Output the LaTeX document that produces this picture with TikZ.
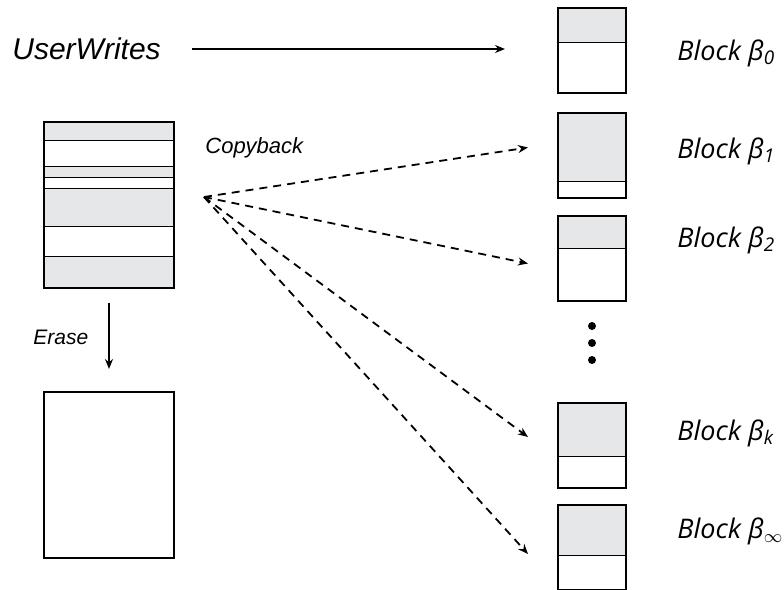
\documentclass[tikz,border=0pt]{standalone}
\usepackage{fontspec}
\setmainfont{Liberation Sans}
\newfontfamily\blkfont{Open Sans}
\usetikzlibrary{arrows.meta, positioning, calc}
\definecolor{blkgray}{RGB}{230,231,232}

\begin{document}
\begin{tikzpicture}[x=0.5pt, y=-0.5pt, >={Stealth[length=5pt,width=4pt]},
  blockbox/.style={draw, line width=1pt, fill=white,
    minimum width=34pt, minimum height=42.5pt, inner sep=0pt,
    path picture={
      \fill[blkgray] (path picture bounding box.north west) rectangle
        ([yshift=-#1]path picture bounding box.north east);
      \draw[line width=0.5pt] ([yshift=-#1]path picture bounding box.north west)
        -- ([yshift=-#1]path picture bounding box.north east);}},
  erasebox/.style={draw, line width=1pt, fill=white,
    minimum width=65pt, minimum height=83pt, inner sep=0pt},
  logbox/.style={erasebox, fill=blkgray,
    path picture={
      \foreach \a/\b in {9/22, 27.5/33, 52/67}
        \draw[line width=0.5pt, fill=white]
          ([yshift=-\a pt]path picture bounding box.north west) rectangle
          ([yshift=-\b pt]path picture bounding box.north east);}},
  blklabel/.style={anchor=base west, inner sep=0pt,
    font=\blkfont\itshape\fontsize{13.5}{16}\selectfont},
  copyarrow/.style={->, dashed, dash pattern=on 4pt off 3pt, line width=0.9pt}]
  \useasboundingbox (0,0) rectangle (784,590);

  % blocks on the right
  \node[blockbox=17pt] (blk0) at (592,50.5) {};
  \node[blockbox=34pt, below=9pt of blk0] (blk1) {};
  \node[blockbox=16pt, below=8pt of blk1] (blk2) {};
  \node[blockbox=27pt] (blkk) at (592,445) {};
  \node[blockbox=25.5pt, below=7.5pt of blkk] (blkinf) {};
  \foreach \y in {326,343,360}
    \fill (592,\y) circle (2pt);

  \node[blklabel] (lab0) at (677,60) {Block β\textsubscript{0}};
  \node[blklabel] (lab1) at (677,158) {Block β\textsubscript{1}};
  \node[blklabel] (lab2) at (677,247) {Block β\textsubscript{2}};
  \node[blklabel] (labk) at (677,440) {Block β\textsubscript{k}};
  \node[blklabel] (labinf) at (677,538) {Block β\textsubscript{$\infty$}};

  % left side
  \node[anchor=west, inner sep=0pt, font=\itshape\fontsize{15}{18}\selectfont]
    (userw) at (12,49) {UserWrites};
  \node[logbox] (logblk) at (109,205) {};
  \node[erasebox, below=51pt of logblk] (erased) {};
  \node[anchor=base west, inner sep=0pt, font=\itshape\fontsize{11}{13}\selectfont]
    (copyb) at (205,153) {Copyback};
  \node[anchor=base west, inner sep=0pt, font=\itshape\fontsize{10.5}{13}\selectfont]
    (erasel) at (33,344) {Erase};
  \coordinate (cpsrc) at (204,197);

  \draw[->, line width=0.75pt, shorten <=15.5pt, shorten >=26pt]
    (userw) -- (userw -| blk0.west);
  \draw[->, line width=0.75pt, shorten <=7pt, shorten >=11pt] (logblk) -- (erased);
  \draw[copyarrow] (cpsrc) -- ([xshift=-14.5pt, yshift=4pt]blk1.west);
  \draw[copyarrow] (cpsrc) -- ([xshift=-14.5pt, yshift=-2.5pt]blk2.west);
  \draw[copyarrow] (cpsrc) -- ([xshift=-14.5pt, yshift=4pt]blkk.west);
  \draw[copyarrow] (cpsrc) -- ([xshift=-14.5pt, yshift=-3.5pt]blkinf.west);
\end{tikzpicture}
\end{document}
